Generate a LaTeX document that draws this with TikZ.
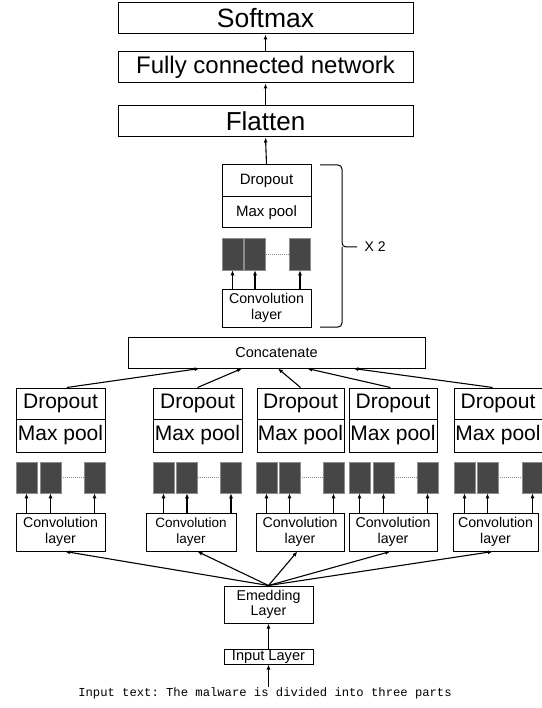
\documentclass[tikz,border=0pt]{standalone}
\usepackage{fontspec}
\setmainfont{Liberation Sans}
\setmonofont{Liberation Mono}
\usetikzlibrary{arrows.meta,calc}
\definecolor{fmapfill}{HTML}{464646}
\definecolor{fmapline}{HTML}{8C8C8C}
\tikzset{
  layerbox/.style={draw, rectangle, inner sep=0pt, line width=1pt},
  topbox/.style={layerbox, minimum width=295pt, minimum height=31pt},
  poolbox/.style={layerbox, minimum width=88pt, font=\fontsize{21}{21}\selectfont},
  smallpool/.style={layerbox, minimum width=89pt, font=\fontsize{15}{15}\selectfont},
  convbox/.style={layerbox, minimum height=38pt, align=center, font=\fontsize{14.2}{15.5}\selectfont},
  fmap/.style={draw=fmapline, fill=fmapfill, line width=0.6pt, minimum width=21pt, minimum height=31pt, inner sep=0pt},
  arr/.style={-{Latex[length=5pt,width=4pt]}, line width=1.1pt},
  dots/.style={densely dotted, draw=fmapline, line width=1pt}
}

\begin{document}
\begin{tikzpicture}[x=1pt,y=1pt,yscale=-1,xscale=1]
\useasboundingbox (0,0) rectangle (541,708);

% Top layers
\node [topbox, font=\fontsize{26.5}{26.5}\selectfont] (sm) at (265.5,18.5) {Softmax};
\node [topbox, font=\fontsize{24}{24}\selectfont] (fc) at (265.5,67.5) {Fully connected network};
\node [topbox, font=\fontsize{26}{26}\selectfont] (fl) at (265.5,121.5) {Flatten};

% Repeated block
\node [smallpool, minimum height=32pt] (d0) at (266.5,181) {Dropout};
\node [smallpool, minimum height=31pt] (m0) at (266.5,212.5) {Max pool};
\node [fmap, minimum height=32pt] (s01) at (232.5,254) {};
\node [fmap, minimum height=32pt] (s02) at (255,254) {};
\node [fmap, minimum height=32pt] (s03) at (300,254) {};
\node [convbox, minimum width=89pt] (c0) at (266.5,308) {Convolution\\layer};

% Brace
\draw [line width=1pt, rounded corners=4pt] (320,165) -- (342,165) -- (342,247) -- (357,247);
\draw [line width=1pt, rounded corners=4pt] (320,327) -- (342,327) -- (342,247);
\node [font=\fontsize{14}{14}\selectfont, anchor=west] (rep) at (361,247) {X 2};

% Concatenate
\node [layerbox, minimum width=297pt, minimum height=31pt, font=\fontsize{14.5}{14.5}\selectfont] (cat) at (276.5,352.5) {Concatenate};

% Branch 1
\node [poolbox, minimum width=89pt, minimum height=31pt] (d1) at (60.5,403.5) {Dropout};
\node [poolbox, minimum width=89pt, minimum height=33pt] (m1) at (60.5,435.5) {Max pool};
\node [fmap] (s11) at (26.5,477.5) {};
\node [fmap] (s12) at (50.5,477.5) {};
\node [fmap] (s13) at (94.5,477.5) {};
\node [convbox, minimum width=89pt] (c1) at (60.5,532) {Convolution\\layer};

% Branch 2
\node [poolbox, minimum width=89pt, minimum height=31pt] (d2) at (197.5,403.5) {Dropout};
\node [poolbox, minimum width=89pt, minimum height=33pt] (m2) at (197.5,435.5) {Max pool};
\node [fmap] (s21) at (163.5,477.5) {};
\node [fmap] (s22) at (187,477.5) {};
\node [fmap] (s23) at (231,477.5) {};
\node [convbox, minimum width=90pt, font=\fontsize{13.5}{15.5}\selectfont] (c2) at (191,532) {Convolution\\layer};

% Branch 3
\node [poolbox, minimum width=87pt, minimum height=31pt] (d3) at (300.5,403.5) {Dropout};
\node [poolbox, minimum width=87pt, minimum height=33pt] (m3) at (300.5,435.5) {Max pool};
\node [fmap] (s31) at (266.5,477.5) {};
\node [fmap] (s32) at (289.5,477.5) {};
\node [fmap] (s33) at (333.5,477.5) {};
\node [convbox, minimum width=88pt] (c3) at (300,532) {Convolution\\layer};

% Branch 4
\node [poolbox, minimum height=31pt] (d4) at (393,403.5) {Dropout};
\node [poolbox, minimum height=33pt] (m4) at (393,435.5) {Max pool};
\node [fmap] (s41) at (359.5,477.5) {};
\node [fmap] (s42) at (383.5,477.5) {};
\node [fmap] (s43) at (427.5,477.5) {};
\node [convbox, minimum width=88pt] (c4) at (393,532) {Convolution\\layer};

% Branch 5
\node [poolbox, minimum height=31pt] (d5) at (498,403.5) {Dropout};
\node [poolbox, minimum height=33pt] (m5) at (498,435.5) {Max pool};
\node [fmap] (s51) at (464.5,477.5) {};
\node [fmap] (s52) at (487.5,477.5) {};
\node [fmap] (s53) at (532.5,477.5) {};
\node [convbox, minimum width=85pt] (c5) at (495.5,532) {Convolution\\layer};

% Embedding and input
\node [convbox, minimum width=89pt, minimum height=37pt] (emb) at (268.5,604.5) {Emedding\\Layer};
\node [layerbox, minimum width=89pt, minimum height=15pt, font=\fontsize{14.6}{14.6}\selectfont] (inp) at (268.5,656.5) {Input Layer};
\node [font=\ttfamily\fontsize{12.2}{12.2}\selectfont, inner sep=0pt] (txt) at (265,693) {Input text: The malware is divided into three parts};

%Straight Lines
\draw [arr] (fl.north) -- (fc.south);
\draw [arr] (fc.north) -- (sm.south);
\draw [arr] (d0.north) -- (fl.south);
\draw [dots] (s02.east) -- (s03.west);
\draw [arr] (s01 |- c0.north) -- (s01.south);
\draw [arr] (s02 |- c0.north) -- (s02.south);
\draw [arr] (s03 |- c0.north) -- (s03.south);

%Straight Lines
\draw [dots] (s12.east) -- (s13.west);
\draw [dots] (s22.east) -- (s23.west);
\draw [dots] (s32.east) -- (s33.west);
\draw [dots] (s42.east) -- (s43.west);
\draw [dots] (s52.east) -- (s53.west);
\draw [arr] (s11 |- c1.north) -- (s11.south);
\draw [arr] (s12 |- c1.north) -- (s12.south);
\draw [arr] (s13 |- c1.north) -- (s13.south);
\draw [arr] (s21 |- c2.north) -- (s21.south);
\draw [arr] (s22 |- c2.north) -- (s22.south);
\draw [arr] (s23 |- c2.north) -- (s23.south);
\draw [arr] (s31 |- c3.north) -- (s31.south);
\draw [arr] (s32 |- c3.north) -- (s32.south);
\draw [arr] (s33 |- c3.north) -- (s33.south);
\draw [arr] (s41 |- c4.north) -- (s41.south);
\draw [arr] (s42 |- c4.north) -- (s42.south);
\draw [arr] (s43 |- c4.north) -- (s43.south);
\draw [arr] (s51 |- c5.north) -- (s51.south);
\draw [arr] (s52 |- c5.north) -- (s52.south);
\draw [arr] (s53 |- c5.north) -- (s53.south);

%Straight Lines
\draw [arr] ($(d1.north west)!0.57!(d1.north east)$) -- ($(cat.south west)!0.242!(cat.south east)$);
\draw [arr] (d2.north) -- ($(cat.south west)!0.384!(cat.south east)$);
\draw [arr] (d3.north) -- ($(cat.south west)!0.505!(cat.south east)$);
\draw [arr] ($(d4.north west)!0.47!(d4.north east)$) -- ($(cat.south west)!0.603!(cat.south east)$);
\draw [arr] ($(d5.north west)!0.44!(d5.north east)$) -- ($(cat.south west)!0.758!(cat.south east)$);

%Straight Lines
\draw [arr] (emb.north) -- ($(c1.south west)!0.55!(c1.south east)$);
\draw [arr] (emb.north) -- ($(c2.south west)!0.57!(c2.south east)$);
\draw [arr] (emb.north) -- ($(c3.south west)!0.47!(c3.south east)$);
\draw [arr] (emb.north) -- ($(c4.south west)!0.47!(c4.south east)$);
\draw [arr] (emb.north) -- ($(c5.south west)!0.47!(c5.south east)$);
\draw [arr] (inp.north) -- (emb.south);
\draw [arr] (txt.north -| inp.south) -- (inp.south);

\end{tikzpicture}
\end{document}
